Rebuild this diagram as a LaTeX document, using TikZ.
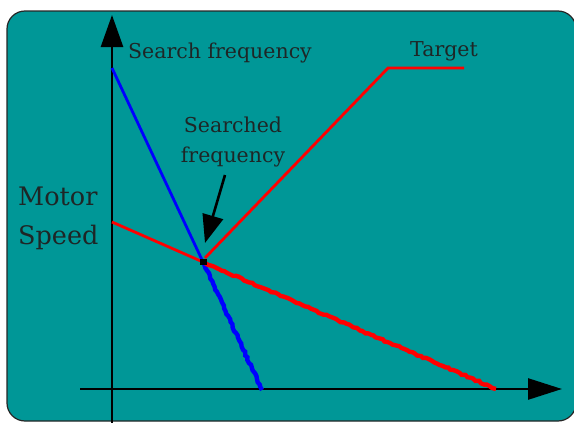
\documentclass[tikz,border=0pt]{standalone}
\usepackage{fontspec}
\setmainfont{DejaVu Serif}
\usetikzlibrary{arrows.meta,decorations.pathmorphing}
\definecolor{bgteal}{RGB}{0,151,151}
\definecolor{txtgray}{RGB}{30,38,38}
\definecolor{lnblue}{RGB}{0,0,255}
\definecolor{lnred}{RGB}{255,0,0}
\begin{document}
\begin{tikzpicture}[x=1pt,y=-1pt,
  axisline/.style={line width=2.6pt,black},
  curve/.style={line width=2.8pt},
  rough/.style={line width=4.4pt,decorate,decoration={random steps,segment length=3pt,amplitude=0.8pt}},
  lbl/.style={text=txtgray,font=\fontsize{20.5}{30}\selectfont,inner sep=0pt},
  biglbl/.style={text=txtgray,font=\fontsize{25.5}{39}\selectfont,inner sep=0pt}]
\useasboundingbox (0,0) rectangle (574,423);
\clip (0,0) rectangle (574,423);
\pgfmathsetseed{7}
% background panel
\draw[fill=bgteal,draw=black!85,line width=1.2pt,rounded corners=18pt] (7,11) rectangle (576,421);
% coordinates
\coordinate (yb) at (112,425);
\coordinate (yt) at (112,15);
\coordinate (xl) at (80,389);
\coordinate (xr) at (562,389);
\coordinate (bs) at (112,68);
\coordinate (rs) at (112,222);
\coordinate (cx) at (203,262);
\coordinate (be) at (262,390);
\coordinate (re) at (496,389);
\coordinate (ts) at (205,258);
\coordinate (tk) at (388,68);
\coordinate (te) at (464,68);
\coordinate (af) at (225,175);
\coordinate (at) at (205,243);
% axes
\draw[axisline,-{Triangle[length=32pt,width=22pt]}] (yb) -- (yt);
\draw[axisline,-{Triangle[length=34pt,width=21pt]}] (xl) -- (xr);
% blue line
\draw[curve,lnblue] (bs) -- (cx);
\draw[rough,lnblue] (cx) -- (be);
% red line
\draw[curve,lnred] (rs) -- (cx);
\draw[rough,lnred] (cx) -- (re);
% target
\draw[curve,lnred,line join=miter] (ts) -- (tk) -- (te);
% intersection marker
\fill[black] (cx) ++(-3.5,-3) rectangle ++(7,6);
% pointer arrow
\draw[line width=2.6pt,-{Triangle[length=28pt,width=21pt]}] (af) -- (at);
% labels
\node[lbl,anchor=west] (sf) at (128,53) {Search frequency};
\node[lbl] (tg) at (444,51) {Target};
\node[lbl,align=center] (sd) at (233,142) {Searched\\frequency};
\node[biglbl,align=left,anchor=west] (ms) at (18,218) {Motor\\Speed};
\end{tikzpicture}
\end{document}
